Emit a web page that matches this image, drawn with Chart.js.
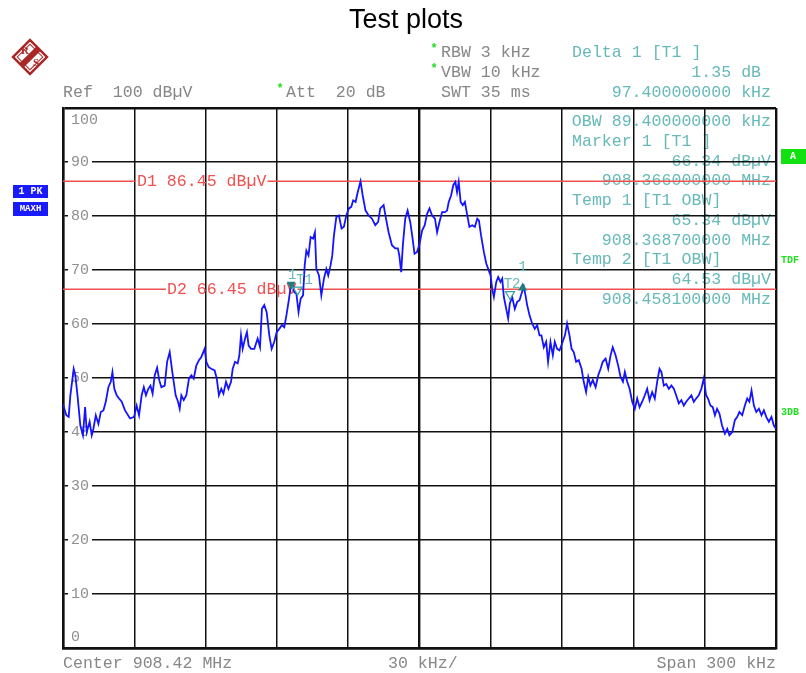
<!DOCTYPE html>
<html>
<head>
<meta charset="utf-8">
<title>Test plots</title>
<script src="https://cdn.jsdelivr.net/npm/chart.js@4.4.1/dist/chart.umd.min.js"></script>
<style>
  html, body { margin: 0; padding: 0; background: #fff; }
  #wrap { width: 806px; height: 673px; }
</style>
</head>
<body>
<div id="wrap"><canvas id="plot" width="806" height="673"></canvas></div>
<script>
// Trace: frequency offset from start of span (kHz) and level (dBuV)
const freqKHz = [
  0.0, 1.4, 2.4, 3.1, 4.5, 5.2, 6.1, 7.3, 8.4, 9.3,
  10.0, 11.2, 12.1, 12.8, 13.8, 14.9, 15.9, 17.0, 18.0, 19.1,
  20.1, 20.8, 21.6, 22.6, 23.6, 24.7, 26.1, 28.2, 29.9, 31.0,
  32.0, 33.1, 34.0, 34.9, 35.9, 36.8, 37.7, 38.6, 39.6, 40.5,
  41.4, 42.8, 43.8, 44.9, 46.0, 47.4, 48.4, 49.1, 49.8, 50.8,
  51.9, 53.0, 54.0, 55.0, 56.1, 57.2, 58.2, 59.6, 60.3, 61.3,
  62.4, 63.8, 64.7, 65.6, 66.6, 67.5, 68.6, 69.6, 70.7, 71.4,
  72.4, 73.5, 74.2, 74.9, 75.6, 76.6, 77.4, 78.1, 79.1, 80.5,
  81.9, 82.9, 83.7, 84.7, 85.7, 86.8, 87.8, 88.9, 89.9, 91.0,
  92.1, 93.1, 94.0, 94.9, 95.9, 96.6, 97.3, 98.2, 99.1, 100.0,
  101.0, 101.7, 102.4, 103.3, 104.2, 105.2, 106.0, 106.6, 107.7, 108.7,
  109.8, 110.8, 111.6, 112.6, 113.3, 114.0, 115.0, 116.1, 117.2, 118.2,
  119.2, 120.3, 121.3, 122.1, 123.1, 124.0, 125.2, 126.1, 127.3, 128.6,
  130.0, 131.4, 132.6, 133.5, 134.9, 135.9, 137.0, 138.4, 139.8, 140.9,
  141.5, 142.3, 143.0, 144.0, 145.0, 146.1, 147.1, 147.9, 148.9, 149.9,
  151.1, 152.2, 153.2, 154.2, 155.3, 156.5, 157.4, 158.4, 159.5, 160.7,
  161.6, 162.3, 163.3, 164.2, 165.1, 165.8, 166.5, 167.3, 168.2, 169.1,
  170.1, 171.0, 172.2, 173.3, 174.3, 175.0, 175.9, 177.1, 178.1, 178.9,
  179.9, 180.6, 181.3, 182.3, 183.1, 184.1, 184.8, 185.5, 186.5, 187.3,
  188.0, 189.0, 190.1, 191.1, 192.1, 192.9, 193.9, 194.6, 195.3, 196.3,
  197.4, 198.5, 199.5, 200.5, 201.3, 202.3, 203.3, 204.1, 205.1, 206.1,
  206.9, 207.9, 208.9, 210.0, 211.2, 212.1, 213.1, 214.0, 214.9, 215.9,
  217.0, 218.2, 219.1, 220.1, 221.0, 221.9, 222.9, 224.1, 225.2, 226.2,
  227.1, 228.3, 229.4, 230.4, 231.3, 232.5, 233.6, 234.6, 235.6, 236.4,
  237.4, 238.4, 239.5, 240.6, 241.6, 242.6, 243.7, 244.8, 245.8, 246.8,
  247.9, 249.0, 250.0, 251.0, 251.8, 252.8, 253.8, 254.9, 256.0, 257.0,
  258.0, 259.1, 260.2, 261.2, 262.2, 263.3, 264.4, 265.4, 266.4, 267.5,
  268.6, 269.6, 270.6, 271.4, 272.4, 273.4, 274.3, 275.2, 276.2, 277.3,
  278.5, 279.5, 280.4, 281.6, 282.7, 283.7, 284.6, 285.8, 286.9, 287.9,
  288.8, 289.7, 290.7, 291.7, 292.8, 293.9, 294.9, 295.9, 297.0, 298.1,
  299.1, 300.0
];
const levelDbuV = [
  45.1, 43.1, 42.8, 46.8, 51.7, 50.5, 46.8, 41.2, 39.4, 44.6,
  40.0, 41.9, 39.4, 40.6, 43.1, 41.5, 43.7, 44.0, 45.6, 48.3,
  49.3, 51.1, 48.0, 46.8, 46.2, 45.6, 44.0, 42.5, 42.8, 44.9,
  43.1, 46.8, 48.3, 46.8, 48.0, 48.6, 47.1, 50.5, 51.9, 49.6,
  48.3, 48.6, 53.0, 54.8, 51.1, 46.8, 45.6, 44.3, 46.8, 45.9,
  46.8, 49.9, 50.5, 49.9, 52.3, 53.3, 53.9, 55.4, 53.0, 52.0,
  51.7, 51.4, 49.9, 46.8, 48.0, 47.1, 49.3, 48.0, 49.3, 51.7,
  53.0, 52.7, 54.2, 57.9, 55.4, 57.3, 58.5, 56.0, 55.4, 55.4,
  57.3, 55.7, 62.8, 63.5, 62.2, 57.9, 55.4, 56.7, 58.5, 59.1,
  59.8, 59.4, 61.6, 64.1, 67.2, 67.5, 65.9, 65.6, 62.2, 64.7,
  65.3, 70.9, 73.6, 72.7, 76.1, 75.8, 77.0, 70.2, 69.0, 65.3,
  68.4, 70.2, 69.0, 70.9, 72.7, 76.4, 79.8, 80.1, 77.7, 78.0,
  80.1, 81.4, 81.7, 82.9, 82.6, 84.4, 86.45, 83.8, 81.0, 80.1,
  79.5, 78.3, 78.9, 81.4, 82.0, 79.5, 77.0, 74.6, 74.0, 74.0,
  72.7, 69.6, 74.6, 79.5, 81.0, 78.9, 75.8, 73.0, 73.3, 74.6,
  77.3, 78.3, 80.4, 81.4, 80.1, 79.5, 77.0, 78.9, 80.7, 80.7,
  81.0, 82.6, 83.8, 85.7, 86.3, 84.4, 86.3, 82.6, 82.0, 82.6,
  80.1, 78.0, 78.3, 78.0, 79.5, 79.2, 76.4, 73.3, 71.2, 70.2,
  69.0, 66.5, 65.0, 67.8, 68.7, 67.8, 68.4, 65.0, 62.8, 61.0,
  63.8, 65.0, 62.8, 64.1, 64.4, 65.6, 66.9, 65.3, 63.5, 61.6,
  60.1, 59.1, 59.8, 57.9, 57.9, 55.7, 56.7, 53.0, 56.7, 54.2,
  56.7, 55.4, 55.1, 56.4, 57.9, 60.1, 57.9, 55.4, 54.8, 53.0,
  53.3, 51.7, 49.3, 47.4, 50.2, 48.6, 49.6, 48.3, 50.5, 51.7,
  53.0, 53.6, 51.7, 54.2, 55.7, 54.2, 52.3, 50.2, 49.3, 51.1,
  49.3, 48.0, 45.6, 44.3, 46.2, 44.6, 45.6, 46.8, 48.0, 45.9,
  47.4, 46.2, 49.3, 51.7, 51.1, 48.6, 48.9, 48.0, 48.6, 48.0,
  46.8, 45.3, 45.9, 44.9, 45.6, 46.2, 46.8, 45.6, 46.2, 46.8,
  48.0, 49.9, 46.8, 46.2, 44.9, 44.6, 43.1, 44.3, 43.4, 41.2,
  39.7, 40.6, 39.4, 40.0, 42.2, 42.8, 43.7, 43.1, 44.9, 46.2,
  45.6, 47.7, 44.9, 43.7, 44.3, 43.1, 44.0, 42.8, 41.9, 42.8,
  41.2, 40.6
];

// Markers (kHz offset, dBuV)
const markerNames = ["1", "T1", "T2", "1"];
const markerFreq = [96.0, 98.7, 188.1, 193.4];
const markerLevel = [66.34, 65.34, 64.53, 67.69];

// Display lines
const lineNames = ["D1", "D2"];
const lineLevels = [86.45, 66.45];

// Axis ticks
const yTickLabels = [100, 90, 80, 70, 60, 50, 40, 30, 20, 10, 0];

const MONO = '"Liberation Mono", "DejaVu Sans Mono", monospace';
const GRAY = "#878787";
const TEAL = "#68b9b9";
const RED = "#f25050";

function txt(ctx, s, x, y, color, font, align) {
  ctx.fillStyle = color;
  ctx.font = font;
  ctx.textAlign = align || "left";
  ctx.textBaseline = "middle";
  ctx.fillText(s, x, y);
}

// Everything drawn under the grid
const underlay = {
  id: "underlay",
  beforeDraw(chart) {
    const ctx = chart.ctx;
    const a = chart.chartArea;
    ctx.save();
    ctx.fillStyle = "#fff";
    ctx.fillRect(0, 0, chart.width, chart.height);

    // title
    txt(ctx, "Test plots", 406, 21, "#000", '27px "Liberation Sans", Arial, sans-serif', "center");

    // R&S logo
    ctx.save();
    ctx.translate(30, 57);
    ctx.rotate(Math.PI / 4);
    ctx.strokeStyle = "#a82828";
    ctx.lineWidth = 2.5;
    ctx.strokeRect(-12, -12, 24, 24);
    ctx.lineWidth = 1;
    ctx.strokeRect(-9, -9, 18, 18);
    ctx.fillStyle = "#a82828";
    ctx.fillRect(-3, -12, 6, 24);
    ctx.restore();
    txt(ctx, "R", 25, 51, "#a82828", 'bold 11px "Liberation Serif", serif', "center");
    txt(ctx, "S", 36, 63, "#a82828", 'bold 11px "Liberation Serif", serif', "center");

    // header
    const f = "16.6px " + MONO;
    const star = "bold 12px " + MONO;
    txt(ctx, "Ref  100 dB\u00b5V", 63, 93, GRAY, f);
    txt(ctx, "*", 280, 89, "#22dd22", star, "center");
    txt(ctx, "Att  20 dB", 286, 93, GRAY, f);
    txt(ctx, "*", 434, 49, "#22dd22", star, "center");
    txt(ctx, "RBW 3 kHz", 441, 53, GRAY, f);
    txt(ctx, "*", 434, 69, "#22dd22", star, "center");
    txt(ctx, "VBW 10 kHz", 441, 73, GRAY, f);
    txt(ctx, "SWT 35 ms", 441, 93, GRAY, f);
    txt(ctx, "Delta 1 [T1 ]", 572, 53, TEAL, f);
    txt(ctx, "1.35 dB ", 771, 73, TEAL, f, "right");
    txt(ctx, "97.400000000 kHz", 771, 93, TEAL, f, "right");

    // marker info inside the plot
    const rows = [
      ["OBW 89.400000000 kHz", "right"],
      ["Marker 1 [T1 ]", "left"],
      ["66.34 dB\u00b5V", "right"],
      ["908.366000000 MHz", "right"],
      ["Temp 1 [T1 OBW]", "left"],
      ["65.34 dB\u00b5V", "right"],
      ["908.368700000 MHz", "right"],
      ["Temp 2 [T1 OBW]", "left"],
      ["64.53 dB\u00b5V", "right"],
      ["908.458100000 MHz", "right"]
    ];
    rows.forEach((r, i) => {
      const y = a.top + 14 + i * 19.7;
      txt(ctx, r[0], r[1] === "left" ? 572 : 771, y, TEAL, f, r[1]);
    });

    // left trace boxes
    ctx.fillStyle = "#1a1aff";
    ctx.fillRect(13, 185, 35, 13);
    ctx.fillRect(13, 202, 35, 14);
    txt(ctx, "1 PK", 30.5, 191.5, "#fff", "bold 10px " + MONO, "center");
    txt(ctx, "MAXH", 30.5, 209, "#fff", "bold 9px " + MONO, "center");

    // right side flags
    ctx.fillStyle = "#11e011";
    ctx.fillRect(781, 149, 25, 15);
    txt(ctx, "A", 793, 156.5, "#fff", "bold 10px " + MONO, "center");
    txt(ctx, "TDF", 781, 260, "#22dd22", "bold 10px " + MONO);
    txt(ctx, "3DB", 781, 412, "#22dd22", "bold 10px " + MONO);

    // bottom labels
    txt(ctx, "Center 908.42 MHz", 63, 664, GRAY, f);
    txt(ctx, "30 kHz/", 388, 664, GRAY, f);
    txt(ctx, "Span 300 kHz", 776, 664, GRAY, f, "right");
    ctx.restore();
  },

  // tick labels and display lines: over grid, under trace
  beforeDatasetsDraw(chart) {
    const ctx = chart.ctx;
    const a = chart.chartArea;
    const ys = chart.scales.y;
    ctx.save();
    const tf = "15px " + MONO;
    ctx.font = tf;
    yTickLabels.forEach((v) => {
      let y = ys.getPixelForValue(v);
      const s = String(v);
      if (v === 100) y += 12;
      else if (v === 0) y -= 11;
      else {
        const w = ctx.measureText(s).width;
        ctx.fillStyle = "#fff";
        ctx.fillRect(a.left + 5, y - 3, w + 6, 6);
      }
      txt(ctx, s, a.left + 8, y, "#8f8f8f", tf);
    });

    const f = "16.6px " + MONO;
    const labelOffsets = [74, 104];
    lineNames.forEach((name, i) => {
      const y = ys.getPixelForValue(lineLevels[i]);
      const s = name + " " + lineLevels[i].toFixed(2) + " dB\u00b5V";
      ctx.font = f;
      const w = ctx.measureText(s).width;
      const x0 = a.left + labelOffsets[i];
      ctx.strokeStyle = RED;
      ctx.lineWidth = 1.5;
      ctx.beginPath();
      ctx.moveTo(a.left, y);
      ctx.lineTo(x0 - 1, y);
      ctx.moveTo(x0 + w + 1, y);
      ctx.lineTo(a.right, y);
      ctx.stroke();
      txt(ctx, s, x0, y, RED, f);
    });
    ctx.restore();
  },

  // markers on top of the trace
  afterDatasetsDraw(chart) {
    const ctx = chart.ctx;
    const xs = chart.scales.x;
    const ys = chart.scales.y;
    ctx.save();
    const lf = "14px " + MONO;
    markerNames.forEach((name, i) => {
      const x = xs.getPixelForValue(markerFreq[i]);
      const y = ys.getPixelForValue(markerLevel[i]);
      const isTemp = name.charAt(0) === "T";
      const up = i === 3;
      ctx.beginPath();
      if (up) {
        ctx.moveTo(x, y);
        ctx.lineTo(x - 4.5, y + 8);
        ctx.lineTo(x + 4.5, y + 8);
      } else {
        ctx.moveTo(x, y);
        ctx.lineTo(x - 4.5, y - 8);
        ctx.lineTo(x + 4.5, y - 8);
      }
      ctx.closePath();
      if (isTemp) {
        ctx.strokeStyle = "#3aa0a0";
        ctx.lineWidth = 1.2;
        ctx.stroke();
      } else {
        ctx.fillStyle = "#1f7d7d";
        ctx.fill();
      }
      if (i === 0) {
        txt(ctx, "1", x + 1, y - 14, TEAL, lf, "center");
        txt(ctx, "T1", x + 5, y - 9, TEAL, lf);
      } else if (i === 2) {
        txt(ctx, "T2", x + 2, y - 15, TEAL, lf, "center");
      } else if (i === 3) {
        txt(ctx, "1", x, y - 15, TEAL, lf, "center");
      }
    });
    ctx.restore();
  }
};

const edgeWidth = (vals) => (c) => (c.tick && vals.includes(c.tick.value) ? 2.4 : 1.5);

const ctx = document.getElementById("plot").getContext("2d");
const trace = freqKHz.map((f, i) => ({ x: f, y: levelDbuV[i] }));

new Chart(ctx, {
  type: "line",
  data: {
    datasets: [
      {
        label: "1 PK MAXH",
        data: trace,
        borderColor: "#1414ff",
        borderWidth: 1.8,
        pointRadius: 0,
        tension: 0,
        fill: false
      }
    ]
  },
  options: {
    responsive: false,
    animation: false,
    devicePixelRatio: 1,
    layout: { padding: { left: 63, right: 30, top: 108, bottom: 25 } },
    plugins: {
      legend: { display: false },
      tooltip: { enabled: false },
      title: { display: false }
    },
    scales: {
      x: {
        type: "linear",
        min: 0,
        max: 300,
        ticks: { display: false, stepSize: 30 },
        grid: { color: "#111", lineWidth: edgeWidth([0, 150, 300]), drawTicks: false },
        border: { display: true, color: "#111", width: 2.4 }
      },
      y: {
        type: "linear",
        min: 0,
        max: 100,
        ticks: { display: false, stepSize: 10 },
        grid: { color: "#111", lineWidth: edgeWidth([0, 100]), drawTicks: false },
        border: { display: true, color: "#111", width: 2.4 }
      }
    }
  },
  plugins: [underlay]
});
</script>
</body>
</html>
